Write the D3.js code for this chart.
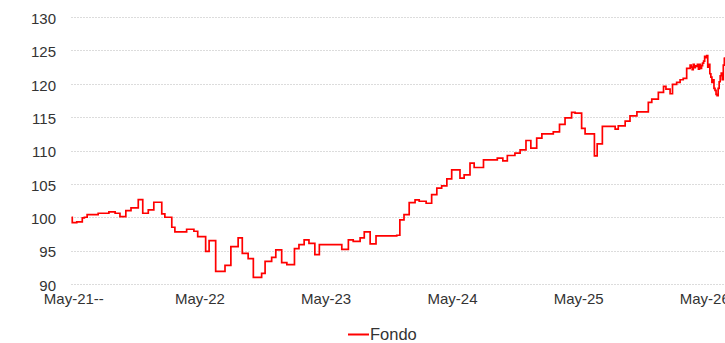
<!DOCTYPE html>
<html>
<head>
<meta charset="utf-8">
<script src="https://cdn.jsdelivr.net/npm/d3@7"></script>
<style>
  html, body { margin: 0; padding: 0; background: #fff; overflow: hidden; }
  svg { display: block; }
  text { font-family: "Liberation Sans", Arial, sans-serif; fill: #333; }
</style>
</head>
<body>
<svg id="chart" width="725" height="343"></svg>
<script>
// NAV history of the fund (base 100)
const dates = [
  "2021-04-26","2021-04-28","2021-05-11","2021-05-27","2021-06-02","2021-06-10","2021-07-12","2021-08-12",
  "2021-08-30","2021-09-13","2021-09-30","2021-10-15","2021-11-05","2021-11-18","2021-12-04","2021-12-20",
  "2022-01-12","2022-01-21","2022-02-10","2022-02-19","2022-03-25","2022-04-15","2022-04-26","2022-05-19",
  "2022-05-29","2022-06-17","2022-07-14","2022-07-31","2022-08-21","2022-09-02","2022-09-19","2022-10-04",
  "2022-10-28","2022-11-07","2022-11-26","2022-12-08","2022-12-25","2023-01-09","2023-01-31","2023-02-13",
  "2023-02-28","2023-03-14","2023-03-31","2023-04-13","2023-06-17","2023-07-06","2023-07-20","2023-08-09",
  "2023-08-21","2023-09-07","2023-09-24","2023-11-23","2023-12-02","2023-12-14","2023-12-29","2024-01-15",
  "2024-01-27","2024-02-16","2024-03-03","2024-03-18","2024-04-01","2024-04-16","2024-04-30","2024-05-24",
  "2024-06-05","2024-06-22","2024-07-04","2024-07-31","2024-09-09","2024-09-25","2024-10-08","2024-10-30",
  "2024-11-14","2024-12-01","2024-12-15","2025-01-01","2025-01-16","2025-02-18","2025-03-08","2025-03-24",
  "2025-04-12","2025-04-22","2025-05-11","2025-05-21","2025-06-17","2025-06-25","2025-07-10","2025-08-16",
  "2025-08-25","2025-09-14","2025-09-28","2025-10-18","2025-11-20","2025-11-30","2025-12-19","2026-01-03",
  "2026-01-10","2026-01-22","2026-01-29","2026-02-10","2026-02-20","2026-03-01","2026-03-11",
  "2026-03-21","2026-03-24","2026-03-27","2026-03-30","2026-04-02","2026-04-05","2026-04-08","2026-04-11",
  "2026-04-14","2026-04-17","2026-04-20","2026-04-23","2026-04-26","2026-04-29","2026-05-02","2026-05-05",
  "2026-05-08","2026-05-11","2026-05-14","2026-05-17","2026-05-20","2026-05-23","2026-05-26","2026-05-29",
  "2026-06-01","2026-06-04","2026-06-07","2026-06-10","2026-06-13","2026-06-16","2026-06-19","2026-06-22",
  "2026-06-25","2026-06-28","2026-07-01"
];
const fondo = [
  100.0, 99.2, 99.3, 99.9, 100.0, 100.4, 100.6, 100.8,
  100.6, 100.1, 101.0, 101.4, 102.65, 100.6, 101.1, 102.25,
  100.5, 100.0, 98.5, 97.8, 98.2, 97.9, 97.1, 94.9,
  96.5, 91.9, 92.8, 95.6, 96.9, 94.6, 93.8, 91.0,
  91.6, 93.4, 94.0, 95.1, 93.2, 92.9, 95.3, 95.9,
  96.6, 96.1, 94.4, 95.9, 95.2, 96.6, 96.4, 96.9,
  97.8, 96.0, 97.2, 97.3, 99.6, 100.4, 102.2, 102.6,
  102.4, 102.1, 103.4, 104.35, 104.7, 105.75, 107.1, 105.85,
  106.35, 108.1, 107.45, 108.6, 108.85, 108.45, 109.25, 109.6,
  110.1, 111.5, 110.35, 111.85, 112.5, 112.8, 113.9, 114.9,
  115.7, 115.6, 113.3, 112.5, 109.2, 111.0, 113.6, 113.2,
  113.7, 114.4, 115.2, 115.8, 117.2, 117.7, 118.7, 119.6,
  119.2, 118.5, 119.9, 120.2, 120.6, 120.8, 122.3,
  122.8, 122.5, 122.1, 122.9, 122.4, 122.7, 122.6, 122.9,
  122.2, 122.9, 122.3, 122.7, 123.1, 123.4, 124.1, 123.9,
  124.2, 122.5, 122.9, 121.5, 121.0, 120.2, 120.6, 119.3,
  119.0, 118.4, 118.2, 119.3, 120.3, 121.2, 121.6, 120.6,
  122.8, 123.8, 124.0
];
const seriesName = "Fondo";

// Axis ticks
const xTickDates = ["2021-05-01","2022-05-01","2023-05-01","2024-05-01","2025-05-01","2026-05-01"];
const xTickLabels = ["May-21--","May-22","May-23","May-24","May-25","May-26"];
const yTicks = [90, 95, 100, 105, 110, 115, 120, 125, 130];

const parse = d3.timeParse("%Y-%m-%d");
const data = dates.map((d, i) => ({ date: parse(d), value: fondo[i] }));
const tickDates = xTickDates.map(parse);

const svg = d3.select("#chart");
const W = 725;

const x = d3.scaleTime()
  .domain([tickDates[0], tickDates[tickDates.length - 1]])
  .range([73.3, 704.3]);
const y = d3.scaleLinear().domain([90, 130]).range([284, 17]);

const gridLeft = 71;

// horizontal gridlines
svg.append("g")
  .selectAll("line")
  .data(yTicks)
  .join("line")
  .attr("x1", gridLeft)
  .attr("x2", W + 20)
  .attr("y1", d => Math.round(y(d)) + 0.5)
  .attr("y2", d => Math.round(y(d)) + 0.5)
  .attr("stroke", "#dcdcdc")
  .attr("stroke-width", 1)
  .attr("stroke-dasharray", "2,1");

// y axis labels
const yAxis = svg.append("g")
  .attr("transform", "translate(56,0)")
  .call(d3.axisLeft(y).tickValues(yTicks).tickSize(0).tickPadding(0).tickFormat(d3.format("d")));
yAxis.select(".domain").remove();
yAxis.selectAll("text")
  .style("font-family", "'Liberation Sans', Arial, sans-serif")
  .style("font-size", "15px")
  .attr("fill", "#333")
  .attr("dy", "0.42em");

// x axis labels
const xAxis = svg.append("g")
  .attr("transform", "translate(0,293)")
  .call(d3.axisBottom(x).tickValues(tickDates).tickSize(0).tickPadding(0)
    .tickFormat((d, i) => xTickLabels[i]));
xAxis.select(".domain").remove();
xAxis.selectAll("text")
  .style("font-family", "'Liberation Sans', Arial, sans-serif")
  .style("font-size", "15px")
  .attr("fill", "#333")
  .attr("dy", "0.71em");

// fund line
const line = d3.line()
  .curve(d3.curveStepAfter)
  .x(d => x(d.date))
  .y(d => y(d.value));

svg.append("path")
  .datum(data)
  .attr("d", line)
  .attr("fill", "none")
  .attr("stroke", "#ff0000")
  .attr("stroke-width", 1.7)
  .attr("stroke-linejoin", "miter");

// legend
const legend = svg.append("g").attr("transform", "translate(348,334)");
legend.append("line")
  .attr("x1", 0).attr("x2", 21)
  .attr("y1", 0.5).attr("y2", 0.5)
  .attr("stroke", "#ff0000")
  .attr("stroke-width", 2);
legend.append("text")
  .attr("x", 22)
  .attr("y", 0)
  .attr("dy", "0.36em")
  .style("font-size", "16.5px")
  .attr("fill", "#333")
  .text(seriesName);
</script>
</body>
</html>
